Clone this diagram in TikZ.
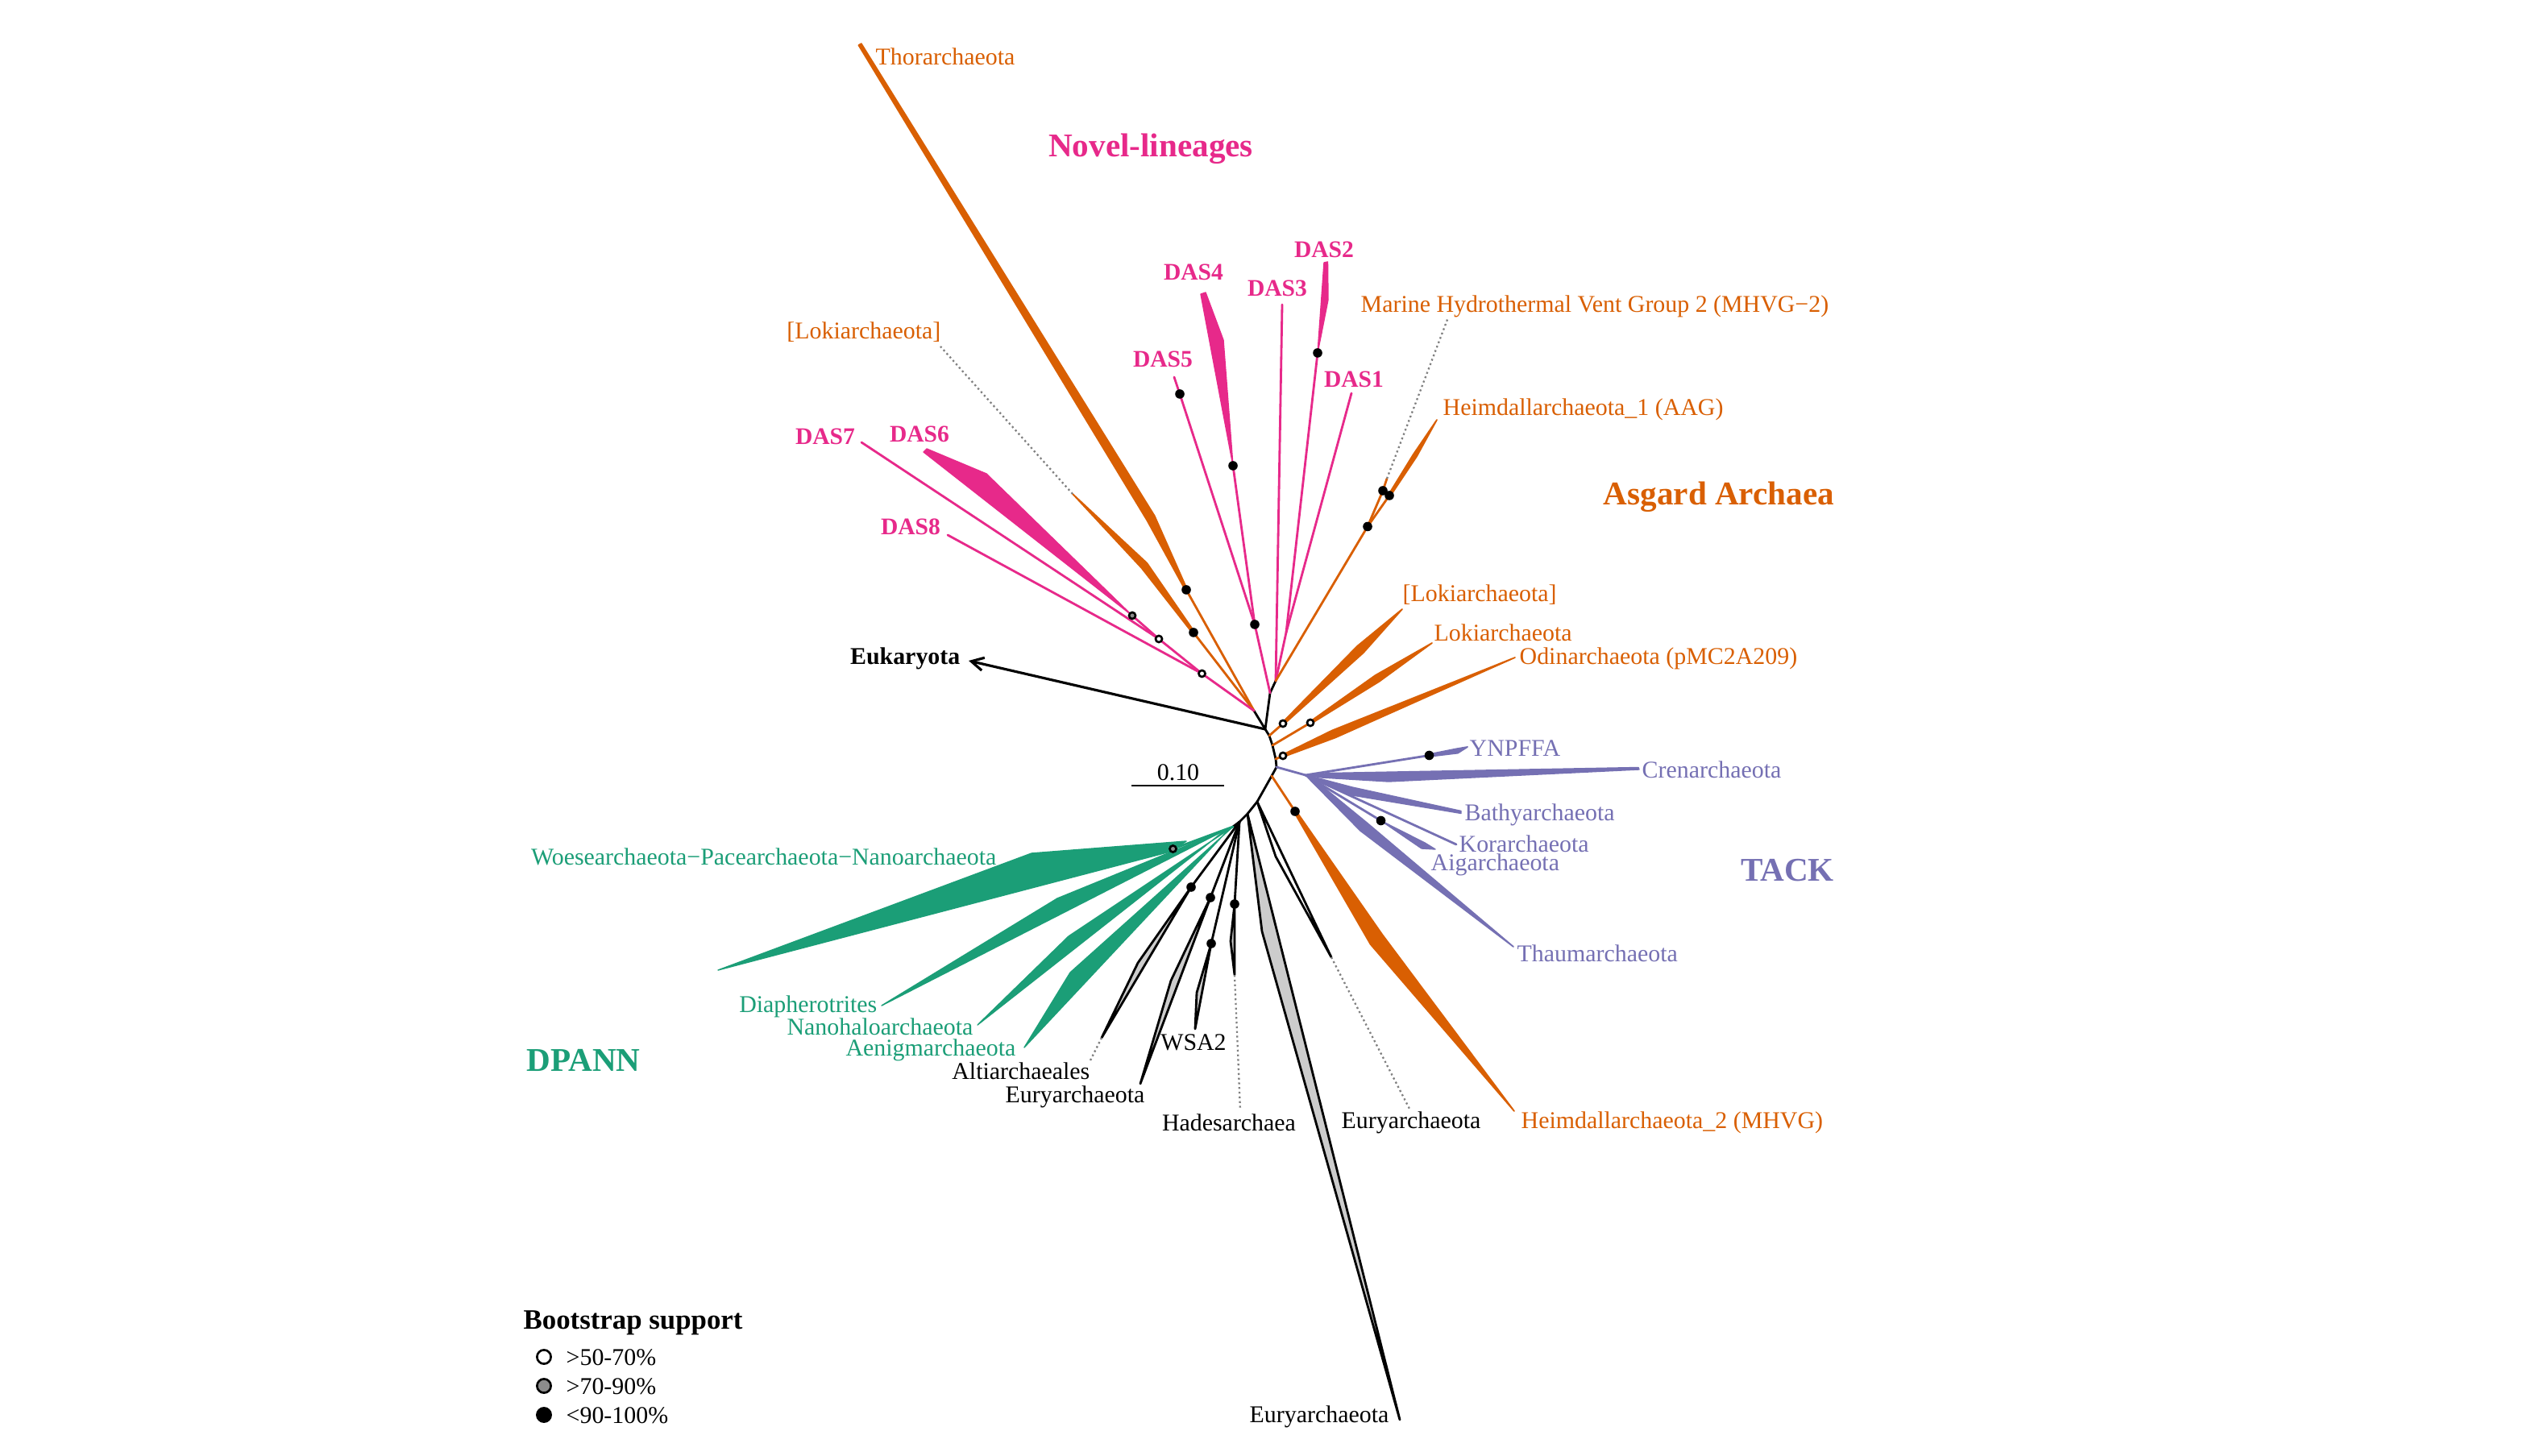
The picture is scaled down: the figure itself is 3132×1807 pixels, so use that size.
\documentclass[tikz,border=0pt]{standalone}
\usepackage{fontspec}
\setmainfont{Liberation Serif}
\usetikzlibrary{calc,arrows.meta}
\definecolor{cpink}{HTML}{E7298A}
\definecolor{corange}{HTML}{D95F02}
\definecolor{cpurple}{HTML}{7570B3}
\definecolor{cgreen}{HTML}{1B9E77}
\definecolor{cwgray}{HTML}{CCCCCC}
\definecolor{cdotg}{HTML}{8C8C8C}
\newcommand\wdg[5]{\filldraw[#1,line width=0.5pt,line join=round] ($(#2)!0.4pt!90:(#3)$) -- ($(#3)!#5!90:(#4)$) -- (#4) -- ($(#3)!#5!-90:(#4)$) -- ($(#2)!0.4pt!-90:(#3)$) -- cycle;}
\tikzset{
  br/.style={line width=0.8pt, line cap=round, line join=round},
  bk/.style={br, draw=black},
  pk/.style={br, draw=cpink},
  og/.style={br, draw=corange},
  pu/.style={br, draw=cpurple},
  gr/.style={br, draw=cgreen},
  dotln/.style={draw=gray, line width=0.65pt, densely dotted},
  gwedge/.style={fill=cwgray, draw=black, line width=0.8pt, line join=round},
  fdot/.style={circle, fill=black, inner sep=0pt, minimum size=3.3pt},
  odot/.style={circle, draw=black, fill=white, line width=0.75pt, inner sep=0pt, minimum size=2.3pt},
  gdot/.style={circle, draw=black, fill=cdotg, line width=0.75pt, inner sep=0pt, minimum size=2.3pt},
  lab/.style={font=\fontsize{8.5}{10}\selectfont, inner sep=0pt},
  dlab/.style={font=\fontsize{8.4}{10}\selectfont\bfseries, text=cpink, inner sep=0pt},
  big/.style={font=\fontsize{11.7}{14}\selectfont\bfseries, inner sep=0pt},
}
\begin{document}
\begin{tikzpicture}[x=0.01cm,y=-0.01cm]
\useasboundingbox[fill=white] (0,0) rectangle (3132,1807);
% ---------- backbone coordinates
\coordinate (C1) at (1570,905);
\coordinate (L) at (1556,882);
\coordinate (Jp) at (1576,860);
\coordinate (Jh) at (1583,845);
\coordinate (b1) at (1575,913);
\coordinate (b2) at (1579,925);
\coordinate (b3) at (1583,942);
\coordinate (b4) at (1584,952);
\coordinate (b5) at (1578,963);
\coordinate (b6) at (1560,995);
\coordinate (b7) at (1548,1010);
\coordinate (b8) at (1538,1020);
\coordinate (DP) at (1530,1026);
\coordinate (EukT) at (1202,820);
% left group
\coordinate (thD) at (1472,732);
\coordinate (thW) at (1428,643);
\coordinate (thT) at (1067,55);
\coordinate (lkD) at (1481,785);
\coordinate (lkW) at (1420,702);
\coordinate (lkT) at (1331,613);
\coordinate (lkL) at (1167,430);
\coordinate (o2) at (1491.5,836);
\coordinate (o1) at (1438,793);
\coordinate (g6) at (1405,764);
\coordinate (d7) at (1069,549);
\coordinate (d8) at (1176,664);
% upper DAS
\coordinate (m45) at (1557,775);
\coordinate (d4D) at (1530,578);
\coordinate (d5D) at (1464,489);
\coordinate (d5T) at (1457,468);
\coordinate (d3T) at (1591,378);
\coordinate (d2D) at (1635,438);
\coordinate (d1T) at (1677,488);
\coordinate (m12) at (1596,785);
% Heimdall 1
\coordinate (hD) at (1697,653.5);
\coordinate (hA) at (1716,609);
\coordinate (hB) at (1724,615);
\coordinate (hAe) at (1721,594);
\coordinate (mhT) at (1797,394);
\coordinate (hW) at (1756,565);
\coordinate (hT) at (1783,521);
% right orange
\coordinate (oLR) at (1592,898);
\coordinate (oL) at (1626,897);
\coordinate (oO) at (1592,938);
% TACK
\coordinate (T1) at (1620,962);
\coordinate (yD) at (1773.5,937.5);
\coordinate (aD) at (1713.5,1018.5);
\coordinate (korT) at (1807,1048);
% Heim 2
\coordinate (h2D) at (1607,1007);
% Eury
\coordinate (emT) at (1652,1188);
\coordinate (eA) at (1478,1101);
\coordinate (eB) at (1502,1114);
\coordinate (eD) at (1503,1171);
\coordinate (eC) at (1532,1122);
\coordinate (alT) at (1367,1288);
\coordinate (haT) at (1532,1210);
% DPANN
\coordinate (gD) at (1455.5,1053.5);

% ---------- backbone
\draw[bk] (C1) -- (L);
\draw[bk] (C1) -- (Jp) -- (Jh);
\draw[bk] (C1) -- (b1) -- (b2) -- (b3) -- (b4) -- (b5) -- (b6) -- (b7) -- (b8) -- (DP);
\draw[line width=0.9pt, -{Straight Barb[length=4.3pt,width=4.6pt]}] (C1) -- (EukT);

% ---------- left group
\draw[og] (L) -- (thD);
\filldraw[corange, line width=0.4pt, line join=round] ($(thD)!0.4pt!90:(thW)$) -- ($(thW)!1.6pt!90:(thT)$) -- ($(thT)!0.6pt!-90:(thW)$) -- ($(thT)!0.6pt!90:(thW)$) -- ($(thW)!1.6pt!-90:(thT)$) -- ($(thD)!0.4pt!-90:(thW)$) -- cycle;
\draw[og] (L) -- (lkD);
\wdg{corange}{lkD}{lkW}{lkT}{1.3pt}
\draw[dotln] (lkT) -- (lkL);
\draw[pk] (L) -- (o2) -- (o1) -- (g6);
\draw[pk] (o1) -- (d7);
\draw[pk] (o2) -- (d8);
\filldraw[cpink, line width=0.4pt, line join=round] (1146,561) -- (1150,557) -- (1224,588) -- (g6) -- cycle;

% ---------- upper DAS
\draw[pk] (Jp) -- (m45) -- (d5D) -- (d5T);
\draw[pk] (m45) -- (d4D);
\filldraw[cpink, line width=0.4pt, line join=round] (1490,365) -- (1496,363) -- (1518,422) -- (d4D) -- cycle;
\draw[pk] (Jh) -- (d3T);
\draw[pk] (Jh) -- (m12) -- (d2D);
\draw[pk] (m12) -- (d1T);
\filldraw[cpink, line width=0.4pt, line join=round] (1643,326) -- (1647.5,325) -- (1648,372) -- (d2D) -- cycle;

% ---------- Heimdall 1 / MHVG-2
\draw[og] (Jh) -- (hD) -- (hA) -- (hAe);
\draw[og] (hD) -- (hB);
\wdg{corange}{hB}{hW}{hT}{0.7pt}
\draw[dotln] (hAe) -- (mhT);

% ---------- right orange
\draw[og] (b1) -- (oLR);
\wdg{corange}{oLR}{1688,806}{1740,756}{1.6pt}
\draw[og] (b2) -- (oL);
\wdg{corange}{oL}{1709,842}{1777,798}{1.3pt}
\draw[og] (b3) -- (oO);
\wdg{corange}{oO}{1655,911}{1880,816}{1.4pt}

% ---------- TACK
\draw[pu] (b4) -- (T1);
\draw[pu] (T1) -- (yD);
\wdg{cpurple}{yD}{1808,932}{1821,927}{0.8pt}
\filldraw[cpurple, line width=0.4pt, line join=round] (T1) -- (1650,959.5) -- (2033,952.5) -- (2034,955) -- (1723,970) -- (1640,965) -- cycle;
\filldraw[cpurple, line width=0.4pt, line join=round] (1625,963) -- (1678,977) -- (1813,1006.5) -- (1813,1009.5) -- (1678,987) -- (1625,966) -- cycle;
\draw[pu] (T1) -- (korT);
\draw[pu] (T1) -- (aD);
\filldraw[cpurple, line width=0.4pt, line join=round] (aD) -- (1768,1046) -- (1781,1054) -- (1764,1053) -- cycle;
\wdg{cpurple}{1624,964}{1692,1026}{1878,1175}{1.8pt}

% ---------- Heimdall 2
\draw[og] (b5) -- (h2D);
\wdg{corange}{h2D}{1708,1166}{1879,1379}{2.7pt}

% ---------- Euryarchaeota etc
\filldraw[fill=white, draw=black, line width=0.8pt, line join=round] (b6) -- (1583,1063) -- (emT) -- cycle;
\draw[dotln] (emT) -- (1750,1378);
\filldraw[gwedge] (b7) -- (1566,1156) -- (1737,1762) -- cycle;
\draw[bk] (b8) -- (eA);
\draw[bk] (b8) -- (eB);
\draw[bk] (b8) -- (eD);
\draw[bk] (b8) -- (eC);
\filldraw[gwedge] (eA) -- (1412,1195) -- (alT) -- cycle;
\draw[dotln] (alT) -- (1352,1318);
\filldraw[gwedge] (eB) -- (1453,1217) -- (1415,1345) -- cycle;
\filldraw[gwedge] (eD) -- (1485,1232) -- (1483,1277) -- cycle;
\filldraw[gwedge] (eC) -- (1527,1168) -- (haT) -- cycle;
\draw[dotln] (haT) -- (1539,1378);

% ---------- DPANN
\draw[gr] (DP) -- (gD);
\filldraw[cgreen, line width=0.4pt, line join=round] (1472,1044) -- (1280,1059) -- (891,1204) -- (1452,1057) -- cycle;
\filldraw[cgreen, line width=0.4pt, line join=round] (DP) -- (1312,1115) -- (1094,1248) -- (1505,1038) -- cycle;
\filldraw[cgreen, line width=0.4pt, line join=round] (DP) -- (1326,1162) -- (1213,1272) -- (1517,1033) -- cycle;
\filldraw[cgreen, line width=0.4pt, line join=round] (DP) -- (1328,1207) -- (1271,1300) -- (1525,1029) -- cycle;

% ---------- support dots
\node[fdot] (n1) at (thD) {};
\node[fdot] (n2) at (lkD) {};
\node[fdot] (n3) at (d5D) {};
\node[fdot] (n4) at (d4D) {};
\node[fdot] (n5) at (m45) {};
\node[fdot] (n6) at (d2D) {};
\node[fdot] (n7) at (hD) {};
\node[fdot] (n8) at (hA) {};
\node[fdot] (n9) at (hB) {};
\node[fdot] (n10) at (yD) {};
\node[fdot] (n11) at (aD) {};
\node[fdot] (n12) at (h2D) {};
\node[fdot] (n13) at (eA) {};
\node[fdot] (n14) at (eB) {};
\node[fdot] (n15) at (eD) {};
\node[fdot] (n16) at (eC) {};
\node[odot] (n17) at (o1) {};
\node[odot] (n18) at (o2) {};
\node[odot] (n19) at (oLR) {};
\node[odot] (n20) at (oL) {};
\node[odot] (n21) at (oO) {};
\node[gdot] (n22) at (g6) {};
\node[gdot] (n23) at (gD) {};

% ---------- labels
\node[lab, text=corange, anchor=west] (tThor) at (1086,70) {Thorarchaeota};
\node[big, text=cpink] (tNovel) at (1428,185) {Novel-lineages};
\node[dlab] (tD4) at (1481,338) {DAS4};
\node[dlab] (tD2) at (1643,310) {DAS2};
\node[dlab] (tD3) at (1585,358) {DAS3};
\node[dlab] (tD5) at (1443,446) {DAS5};
\node[dlab] (tD1) at (1680,471) {DAS1};
\node[dlab] (tD7) at (1024,542) {DAS7};
\node[dlab] (tD6) at (1141,539) {DAS6};
\node[dlab] (tD8) at (1130,654) {DAS8};
\node[lab, text=corange, anchor=west] (tMH) at (1688,380) {Marine Hydrothermal Vent Group 2 (MHVG−2)};
\node[lab, text=corange, anchor=east] (tLkL) at (1168,412) {[Lokiarchaeota]};
\node[lab, text=corange, anchor=west] (tH1) at (1790,508) {Heimdallarchaeota\_1 (AAG)};
\node[big, text=corange] (tAsg) at (2133,617) {Asgard Archaea};
\node[lab, text=corange, anchor=west] (tLkR) at (1740,738) {[Lokiarchaeota]};
\node[lab, text=corange, anchor=west] (tLk) at (1779,785) {Lokiarchaeota};
\node[lab, text=corange, anchor=west] (tOd) at (1885,817) {Odinarchaeota (pMC2A209)};
\node[lab, font=\fontsize{8.5}{10}\selectfont\bfseries, anchor=east] (tEuk) at (1192,817) {Eukaryota};
\node[lab] (tSc) at (1462,959) {0.10};
\draw[line width=0.8pt] (1404,975) coordinate (sb1) -- (1519,975) coordinate (sb2);
\node[lab, text=cpurple, anchor=west] (tYN) at (1823,929) {YNPFFA};
\node[lab, text=cpurple, anchor=west] (tCr) at (2037,955) {Crenarchaeota};
\node[lab, text=cpurple, anchor=west] (tBa) at (1817,1011) {Bathyarchaeota};
\node[lab, text=cpurple, anchor=west] (tKo) at (1810,1047) {Korarchaeota};
\node[lab, text=cpurple, anchor=west] (tAi) at (1775,1073) {Aigarchaeota};
\node[big, text=cpurple] (tTACK) at (2218,1080) {TACK};
\node[lab, text=cpurple, anchor=west] (tTh) at (1882,1183) {Thaumarchaeota};
\node[lab, text=cgreen, anchor=east] (tWo) at (1237,1063) {Woesearchaeota−Pacearchaeota−Nanoarchaeota};
\node[lab, text=cgreen, anchor=east] (tDi) at (1089,1249) {Diapherotrites};
\node[lab, text=cgreen, anchor=east] (tNa) at (1208,1274) {Nanohaloarchaeota};
\node[lab, text=cgreen, anchor=east] (tAe) at (1261,1303) {Aenigmarchaeota};
\node[big, text=cgreen] (tDP) at (724,1316) {DPANN};
\node[lab] (tWS) at (1481,1294) {WSA2};
\node[lab, anchor=east] (tAl) at (1353,1329) {Altiarchaeales};
\node[lab, anchor=east] (tEu1) at (1421,1361) {Euryarchaeota};
\node[lab] (tHa) at (1525,1393) {Hadesarchaea};
\node[lab] (tEu2) at (1751,1393) {Euryarchaeota};
\node[lab, text=corange, anchor=west] (tH2) at (1887,1393) {Heimdallarchaeota\_2 (MHVG)};
\node[lab] (tEu3) at (1637,1758) {Euryarchaeota};

% ---------- legend
\node[font=\fontsize{9.9}{11}\selectfont\bfseries, inner sep=0pt, anchor=west] (tBS) at (649,1642) {Bootstrap support};
\draw[line width=0.75pt, fill=white] (675,1684) circle (2.45pt) coordinate (lg1);
\draw[line width=0.75pt, fill=cdotg] (675,1720) circle (2.45pt) coordinate (lg2);
\draw[line width=0.75pt, fill=black] (675,1756) circle (2.45pt) coordinate (lg3);
\node[lab, anchor=west] (tL1) at (702,1685) {>50-70\%};
\node[lab, anchor=west] (tL2) at (702,1721) {>70-90\%};
\node[lab, anchor=west] (tL3) at (702,1757) {<90-100\%};
\end{tikzpicture}
\end{document}
